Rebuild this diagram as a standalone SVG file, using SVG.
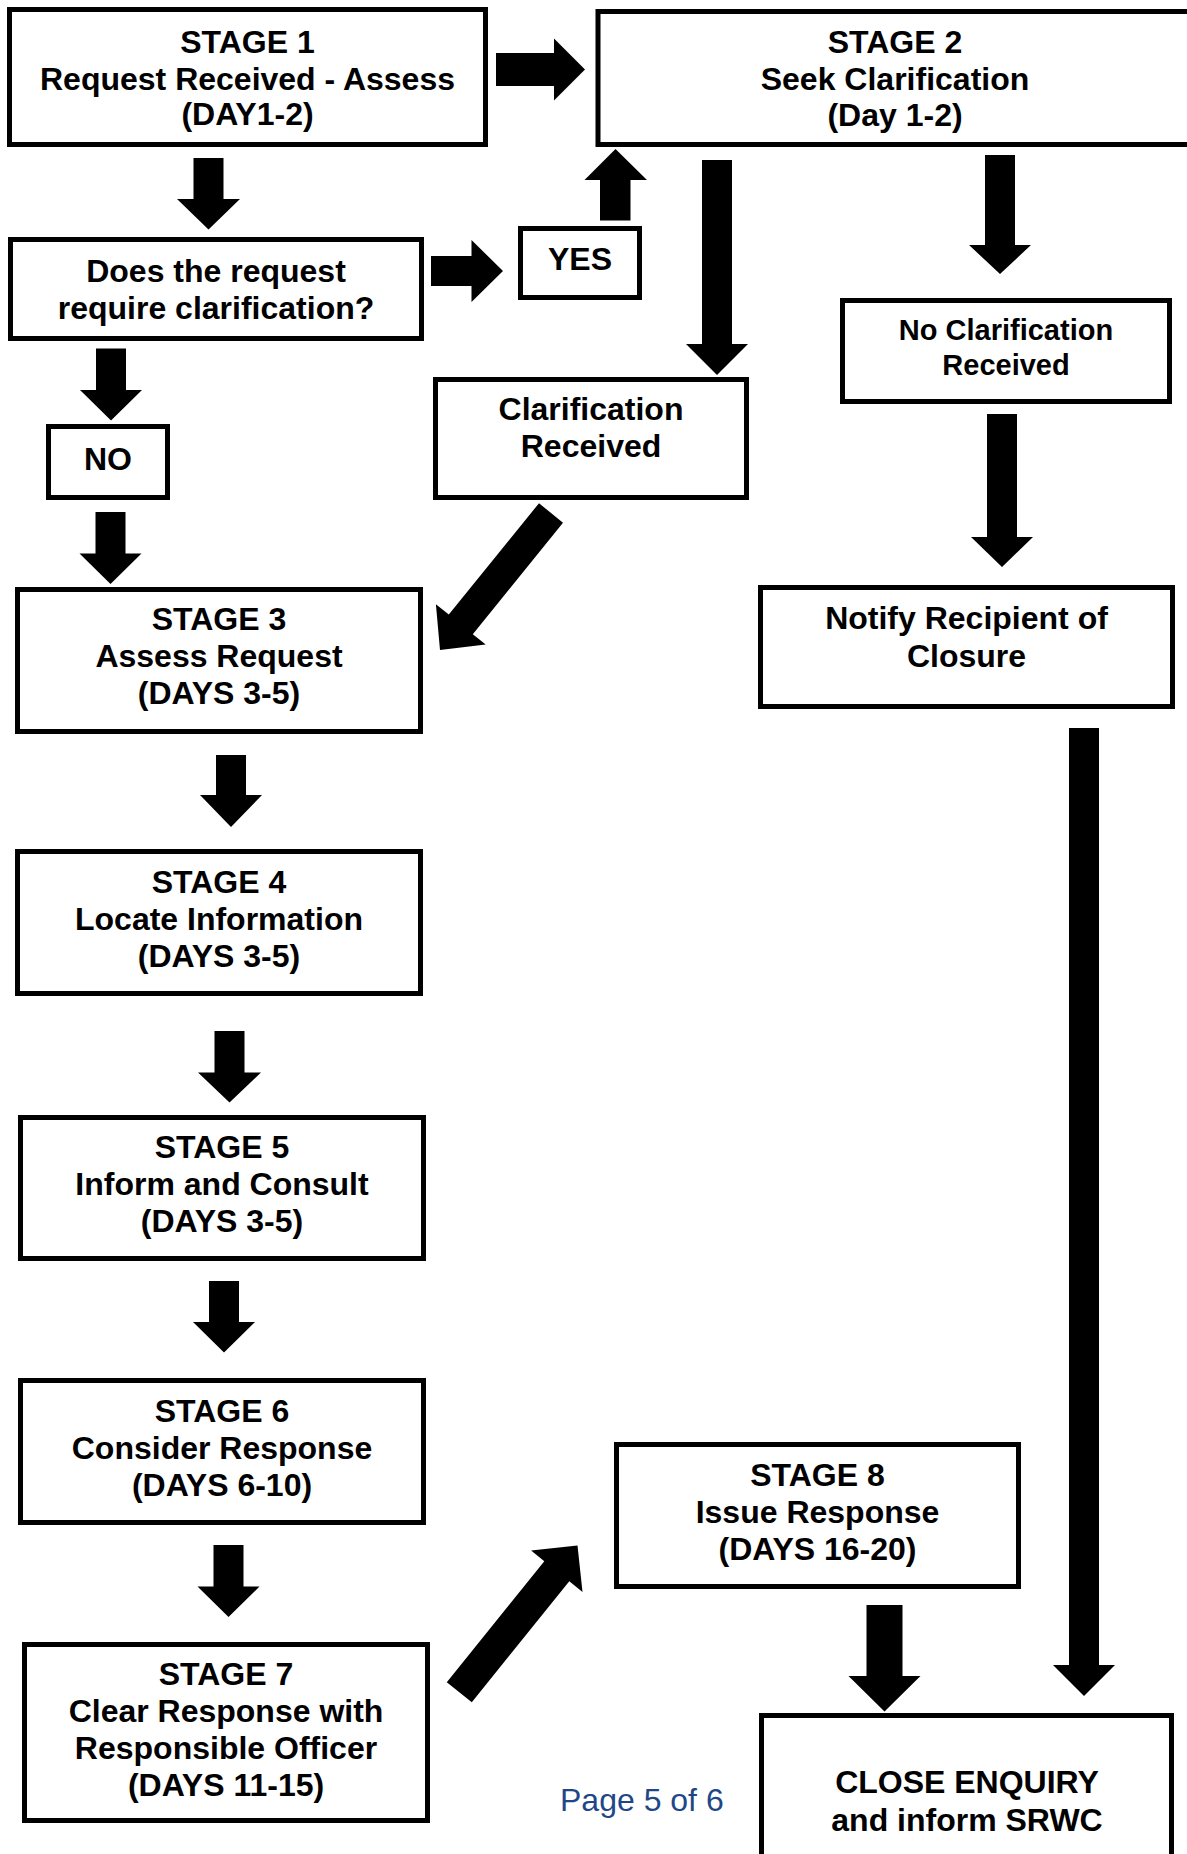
<svg xmlns="http://www.w3.org/2000/svg" width="1187" height="1854" viewBox="0 0 1187 1854">
<style>
.box{fill:#fff;stroke:#000;stroke-width:5;stroke-linejoin:miter}
.t{font-family:"Liberation Sans",Arial,sans-serif;font-weight:bold;font-size:32px;fill:#000;text-anchor:middle}
.s{font-size:29px}
.arr{fill:#000;stroke:none}
.pg{font-family:"Liberation Sans",Arial,sans-serif;font-size:32px;fill:#1F4788}
</style>
<rect x="0" y="0" width="1187" height="1854" fill="#fff"/>
<g id="connectors">
<polygon class="arr" points="496,53 554,53 554,38.5 585,69.5 554,100.5 554,86 496,86"/>
<polygon class="arr" points="193.5,158 223.5,158 223.5,199 240,199 208.5,229.5 177,199 193.5,199"/>
<polygon class="arr" points="431,256 471.5,256 471.5,240 503,271 471.5,302 471.5,286 431,286"/>
<polygon class="arr" points="600,220.5 630.5,220.5 630.5,180 647,180 615.5,149 584.5,180 600,180"/>
<polygon class="arr" points="96,348.5 126,348.5 126,390 142,390 111,420.5 80,390 96,390"/>
<polygon class="arr" points="95.5,512 125.5,512 125.5,553.5 141.5,553.5 110.5,584 79.5,553.5 95.5,553.5"/>
<polygon class="arr" points="702,160 732,160 732,344 748,344 717,375 686,344 702,344"/>
<polygon class="arr" points="985,155 1015,155 1015,245 1031,245 1000,274 969,245 985,245"/>
<polygon class="arr" points="987,414 1017,414 1017,537 1033,537 1002,567 971,537 987,537"/>
<polygon class="arr" points="563,522.8 472.8,634.2 485.7,644.5 440,650 435.9,604.3 448.8,614.6 539,503.2"/>
<polygon class="arr" points="216,755 246,755 246,795 262,795 231,827 200,795 216,795"/>
<polygon class="arr" points="214.5,1031 244.5,1031 244.5,1072.5 261,1072.5 229.5,1102.5 198,1072.5 214.5,1072.5"/>
<polygon class="arr" points="209,1281 239,1281 239,1322 255,1322 224,1352.5 193,1322 209,1322"/>
<polygon class="arr" points="213.5,1545 243.5,1545 243.5,1586.5 259.5,1586.5 228.5,1617 197.5,1586.5 213.5,1586.5"/>
<polygon class="arr" points="446.8,1682.2 544.3,1561.3 531.1,1550.6 577.5,1545.6 582.5,1592 569.3,1581.3 471.8,1702.2"/>
<polygon class="arr" points="866.5,1605 902.5,1605 902.5,1676 920.5,1676 884.5,1711.5 848.5,1676 866.5,1676"/>
<polygon class="arr" points="1069,728 1099,728 1099,1665 1115,1665 1084,1696 1053,1665 1069,1665"/>
</g>
<g id="stage1">
<rect class="box" x="9.5" y="9.5" width="476" height="135"/>
<text class="t" x="247.5" y="53">STAGE 1</text>
<text class="t" x="247.5" y="89.5">Request Received - Assess</text>
<text class="t" x="247.5" y="125">(DAY1-2)</text>
</g>
<g id="stage2">
<rect class="box" x="598" y="11.5" width="620" height="133"/>
<text class="t" x="895" y="53">STAGE 2</text>
<text class="t" x="895" y="90">Seek Clarification</text>
<text class="t" x="895" y="126">(Day 1-2)</text>
</g>
<g id="question">
<rect class="box" x="10.5" y="239.5" width="411" height="99"/>
<text class="t" x="216" y="282">Does the request</text>
<text class="t" x="216" y="319">require clarification?</text>
</g>
<g id="yes">
<rect class="box" x="520.5" y="228.5" width="119" height="69"/>
<text class="t" x="580" y="270">YES</text>
</g>
<g id="no">
<rect class="box" x="48.5" y="426.5" width="119" height="71"/>
<text class="t" x="108" y="470">NO</text>
</g>
<g id="clarification-received">
<rect class="box" x="435.5" y="379.5" width="311" height="118"/>
<text class="t" x="591" y="420">Clarification</text>
<text class="t" x="591" y="457">Received</text>
</g>
<g id="no-clarification">
<rect class="box" x="842.5" y="300.5" width="327" height="101"/>
<text class="t s" x="1006" y="340">No Clarification</text>
<text class="t s" x="1006" y="375">Received</text>
</g>
<g id="notify">
<rect class="box" x="760.5" y="587.5" width="412" height="119"/>
<text class="t" x="966.5" y="629">Notify Recipient of</text>
<text class="t" x="966.5" y="666.5">Closure</text>
</g>
<g id="stage3">
<rect class="box" x="17.5" y="589.5" width="403" height="142"/>
<text class="t" x="219" y="629.5">STAGE 3</text>
<text class="t" x="219" y="666.5">Assess Request</text>
<text class="t" x="219" y="703.5">(DAYS 3-5)</text>
</g>
<g id="stage4">
<rect class="box" x="17.5" y="851.5" width="403" height="142"/>
<text class="t" x="219" y="893">STAGE 4</text>
<text class="t" x="219" y="930">Locate Information</text>
<text class="t" x="219" y="967">(DAYS 3-5)</text>
</g>
<g id="stage5">
<rect class="box" x="20.5" y="1117.5" width="403" height="141"/>
<text class="t" x="222" y="1158">STAGE 5</text>
<text class="t" x="222" y="1195">Inform and Consult</text>
<text class="t" x="222" y="1232">(DAYS 3-5)</text>
</g>
<g id="stage6">
<rect class="box" x="20.5" y="1380.5" width="403" height="142"/>
<text class="t" x="222" y="1422">STAGE 6</text>
<text class="t" x="222" y="1459">Consider Response</text>
<text class="t" x="222" y="1496">(DAYS 6-10)</text>
</g>
<g id="stage7">
<rect class="box" x="24.5" y="1644.5" width="403" height="176"/>
<text class="t" x="226" y="1685">STAGE 7</text>
<text class="t" x="226" y="1722">Clear Response with</text>
<text class="t" x="226" y="1759">Responsible Officer</text>
<text class="t" x="226" y="1796">(DAYS 11-15)</text>
</g>
<g id="stage8">
<rect class="box" x="616.5" y="1444.5" width="402" height="142"/>
<text class="t" x="817.5" y="1486">STAGE 8</text>
<text class="t" x="817.5" y="1523">Issue Response</text>
<text class="t" x="817.5" y="1560">(DAYS 16-20)</text>
</g>
<g id="close">
<rect class="box" x="761.5" y="1715.5" width="410" height="200"/>
<text class="t" x="967" y="1793">CLOSE ENQUIRY</text>
<text class="t" x="967" y="1830.5">and inform SRWC</text>
</g>
<g id="page-number">
<text class="pg" x="560" y="1811">Page 5 of 6</text>
</g>
</svg>
